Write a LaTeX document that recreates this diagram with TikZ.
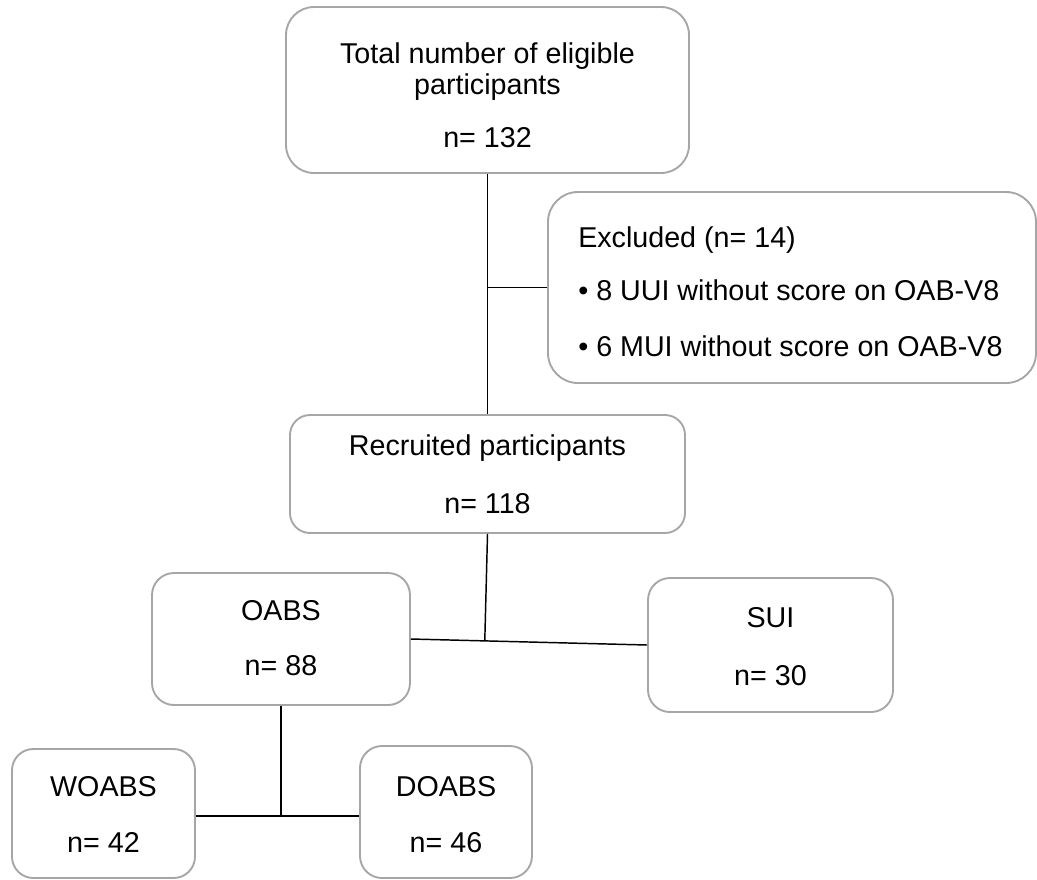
\documentclass[tikz,border=0pt]{standalone}
\usepackage{fontspec}
\setmainfont{Liberation Sans}
\usetikzlibrary{calc}
\definecolor{boxgray}{RGB}{166,166,166}
\begin{document}
\begin{tikzpicture}[x=0.75pt,y=-0.75pt,
  box/.style={draw=boxgray, line width=1.4pt, fill=white, inner sep=0pt, rectangle},
  txt/.style={anchor=base, inner sep=0pt, font=\fontsize{21.5}{25}\selectfont},
  ltxt/.style={txt, anchor=base west},
  conn/.style={draw=black, line width=1.1pt}]
\useasboundingbox (0,0) rectangle (1037,879);

% boxes
\node[box, rounded corners=21pt, minimum width=302.25pt, minimum height=124.5pt] (b1) at (487.5,90) {};
\node[box, rounded corners=22.5pt, minimum width=366pt, minimum height=143.25pt] (excl) at (792,287.5) {};
\node[box, rounded corners=15pt, minimum width=296.25pt, minimum height=88.5pt] (rec) at (487.5,474) {};
\node[box, rounded corners=16.5pt, minimum width=193.5pt, minimum height=99pt] (oabs) at (281,639) {};
\node[box, rounded corners=16.5pt, minimum width=183.75pt, minimum height=100.5pt] (sui) at (770.5,645) {};
\node[box, rounded corners=16pt, minimum width=137.25pt, minimum height=96.75pt] (woabs) at (103.5,813.5) {};
\node[box, rounded corners=16.5pt, minimum width=129pt, minimum height=99pt] (doabs) at (446,812) {};

% texts
\node[txt] (t1a) at (487.5,63) {Total number of eligible};
\node[txt] (t1b) at (487.5,94) {participants};
\node[txt] (t1c) at (487.5,147) {n= 132};
\node[ltxt] (t2a) at (578,247) {Excluded (n= 14)};
\node[ltxt] (t2b) at (578,300) {• 8 UUI without score on OAB-V8};
\node[ltxt] (t2c) at (578,356) {• 6 MUI without score on OAB-V8};
\node[txt] (t3a) at (487.5,455) {Recruited participants};
\node[txt] (t3b) at (487.5,513) {n= 118};
\node[txt] (t4a) at (281,620) {OABS};
\node[txt] (t4b) at (281,675) {n= 88};
\node[txt] (t5a) at (770.5,627) {SUI};
\node[txt] (t5b) at (770.5,685) {n= 30};
\node[txt] (t6a) at (103.5,796) {WOABS};
\node[txt] (t6b) at (103.5,852) {n= 42};
\node[txt] (t7a) at (446,796) {DOABS};
\node[txt] (t7b) at (446,852) {n= 46};

% connectors
\draw[conn] (b1.south) -- (rec.north);
\coordinate (j0) at (b1.south |- excl.west);
\draw[conn] (j0) -- (excl.west);
\draw[conn] (oabs.east) -- (sui.west);
\coordinate (j1) at ($(oabs.east)!(rec.south)!(sui.west)$);
\draw[conn] (rec.south) -- (j1);
\coordinate (wE) at ($(woabs.east)+(0,2.5)$);
\coordinate (dW) at ($(doabs.west)+(0,4)$);
\draw[conn] (wE) -- (dW);
\coordinate (j2) at ($(wE)!(oabs.south)!(dW)$);
\draw[conn] (oabs.south) -- (j2);
\end{tikzpicture}
\end{document}
